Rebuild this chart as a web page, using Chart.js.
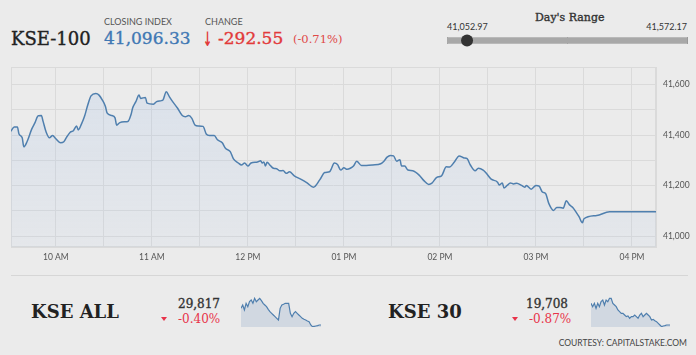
<!DOCTYPE html>
<html>
<head>
<meta charset="utf-8">
<script src="https://cdn.jsdelivr.net/npm/chart.js@4.4.1/dist/chart.umd.min.js"></script>
<style>
  html,body{margin:0;padding:0;}
  body{width:696px;height:355px;background:#ebebeb;position:relative;overflow:hidden;}
  .t{position:absolute;white-space:nowrap;line-height:1;}
  .serif{font-family:"DejaVu Serif",serif;}
  .heavy{-webkit-text-stroke:0.35px currentColor;}
  .sans{font-family:Lato,"DejaVu Sans",sans-serif;}
  canvas{position:absolute;}
  .tri{position:absolute;width:0;height:0;border-left:3.5px solid transparent;border-right:3.5px solid transparent;border-top:4px solid #e8334a;}
</style>
</head>
<body>
<div class="t serif heavy" style="left:11px;top:30px;font-size:18px;color:#222;">KSE-100</div>
<div class="t sans" style="left:104px;top:17px;font-size:9px;color:#555;">CLOSING INDEX</div>
<div class="t serif heavy" id="close" style="left:104px;top:30px;font-size:17px;color:#3f78b4;"></div>
<div class="t sans" style="left:205px;top:17px;font-size:9px;color:#555;">CHANGE</div>
<div class="t" style="left:203px;top:29px;font-size:20px;font-weight:bold;color:#e23a3a;font-family:'DejaVu Sans';transform:scaleX(0.55);transform-origin:left top;">↓</div>
<div class="t serif heavy" id="chg" style="left:218px;top:30px;font-size:17px;color:#e23a3a;"></div>
<div class="t serif" id="chgp" style="left:293px;top:34px;font-size:11.5px;color:#e04848;"></div>

<div class="t serif heavy" style="left:535px;top:12px;font-size:11px;color:#333;">Day's Range</div>
<div class="t sans" id="lowTxt" style="left:447px;top:22px;font-size:9px;color:#333;"></div>
<div class="t sans" id="highTxt" style="right:9px;top:22px;font-size:9px;color:#333;"></div>
<canvas id="range" width="255" height="19" style="left:440px;top:31px;"></canvas>

<canvas id="main" width="696" height="215" style="left:0;top:55px;"></canvas>

<div style="position:absolute;left:11px;top:275px;width:677px;height:1px;background:#d6d6d6;"></div>

<div class="t serif" style="left:31px;top:303px;font-size:18px;font-weight:bold;color:#222;">KSE ALL</div>
<div class="tri" style="left:161px;top:317px;"></div>
<div class="t serif heavy" id="allVal" style="left:178px;top:298px;font-size:12px;color:#333;"></div>
<div class="t serif" id="allPct" style="left:178px;top:313px;font-size:12px;color:#e8334a;"></div>
<canvas id="sparkAll" width="80" height="31" style="left:241px;top:296px;"></canvas>

<div class="t serif" style="left:388px;top:303px;font-size:18px;font-weight:bold;color:#222;">KSE 30</div>
<div class="tri" style="left:512px;top:317px;"></div>
<div class="t serif heavy" id="k30Val" style="left:526px;top:298px;font-size:12px;color:#333;"></div>
<div class="t serif" id="k30Pct" style="left:529px;top:313px;font-size:12px;color:#e8334a;"></div>
<canvas id="spark30" width="79" height="31" style="left:591px;top:296px;"></canvas>

<div class="t sans" style="right:9px;top:339px;font-size:8.5px;color:#444;">COURTESY: CAPITALSTAKE.COM</div>

<script>
// ---- header values ----
const closingIndex = 41096.33;
const changePts = -292.55;
const changePct = -0.71;
const dayLow = 41052.97;
const dayHigh = 41572.17;

// ---- main intraday series (KSE-100) ----
const times = ["09:32","09:34","09:36","09:37","09:39","09:40","09:42","09:45","09:47","09:49","09:51","09:52","09:54","09:56","09:58",
"10:00","10:03","10:05","10:07","10:09","10:11","10:13","10:14","10:16","10:18","10:20","10:22","10:25","10:27","10:29","10:31","10:32","10:35","10:37","10:38","10:40","10:43","10:45","10:47","10:48","10:50","10:52","10:53","10:56","10:57",
"11:01","11:03","11:06","11:07","11:09","11:11","11:13","11:16","11:19","11:21","11:23","11:25","11:27","11:29","11:32","11:34","11:36","11:39","11:41","11:44","11:46","11:49","11:51","11:54","11:56","11:58",
"12:00","12:02","12:06","12:08","12:09","12:10","12:11","12:12","12:14","12:16","12:18","12:20","12:22","12:24","12:26","12:29","12:33","12:37","12:41","12:45","12:48","12:51","12:52","12:54","12:56","12:58",
"13:00","13:02","13:04","13:06","13:08","13:11","13:14","13:18","13:23","13:25","13:27","13:29","13:31","13:33","13:35","13:36","13:38","13:40","13:43","13:47","13:50","13:53","13:55","13:58",
"14:01","14:04","14:06","14:09","14:12","14:15","14:17","14:19","14:22","14:24","14:27","14:29","14:32","14:36","14:37","14:39","14:40","14:42","14:44","14:46","14:48","14:51","14:53","14:54","14:57",
"15:00","15:02","15:04","15:06","15:08","15:11","15:13","15:15","15:17","15:19","15:21","15:23","15:26","15:27","15:29","15:30","15:38","15:46","16:15"];
const values = [41416,41433,41433,41405,41390,41354,41374,41425,41450,41477,41478,41456,41412,41390,41399,
41386,41370,41374,41395,41412,41418,41437,41421,41444,41476,41521,41556,41565,41559,41540,41514,41489,41478,41469,41440,41450,41453,41454,41482,41508,41533,41559,41546,41550,41527,
41523,41533,41537,41540,41572.17,41552,41533,41508,41478,41473,41478,41467,41440,41437,41435,41405,41399,41399,41382,41370,41348,41335,41306,41290,41282,41290,
41278,41290,41294,41299,41290,41294,41278,41293,41280,41269,41267,41259,41260,41249,41255,41239,41226,41211,41194,41224,41252,41255,41265,41290,41284,41262,
41271,41265,41269,41278,41297,41280,41280,41282,41287,41297,41313,41320,41318,41297,41303,41278,41278,41262,41259,41242,41220,41205,41210,41233,
41239,41275,41274,41294,41318,41310,41307,41282,41259,41269,41262,41249,41226,41214,41203,41211,41191,41201,41211,41207,41210,41201,41194,41201,41186,
41201,41198,41175,41169,41130,41102,41114,41114,41111,41140,41124,41114,41086,41076,41052.97,41069,41082,41096.33,41096.33];

const xTicks = [600,630,660,690,720,750,780,810,840,870,900,930,960];
const xTickLabels = ["10 AM","","11 AM","","12 PM","","01 PM","","02 PM","","03 PM","","04 PM"];
const yTicks = [41000,41100,41200,41300,41400,41500,41600];
const yTickLabels = ["41,000","","41,200","","41,400","","41,600"];

// ---- bottom indices ----
const kseAllClose = 29817;
const kseAllPct = -0.40;
const kseAllSpark = [29917,29937,29907,29947,29927,29957,29967,29947,29977,29957,29967,29977,29963,29947,29937,29927,29911,29897,29887,29877,29867,29857,29847,29917,29937,29941,29947,29947,29947,29887,29867,29887,29897,29887,29877,29867,29857,29851,29847,29841,29837,29817,29807,29809,29811,29813,29817,29817];
const kse30Close = 19708;
const kse30Pct = -0.87;
const kse30Spark = [19838,19818,19838,19808,19838,19818,19848,19858,19828,19858,19848,19868,19868,19838,19828,19818,19798,19788,19778,19778,19768,19758,19762,19748,19758,19758,19768,19758,19748,19768,19778,19758,19768,19778,19768,19758,19738,19742,19734,19728,19718,19708,19698,19702,19704,19708,19708,19708];

// ---- text fill ----
const fmt2 = v => v.toLocaleString('en-US',{minimumFractionDigits:2,maximumFractionDigits:2});
const fmt0 = v => v.toLocaleString('en-US');
document.getElementById('close').textContent = fmt2(closingIndex);
document.getElementById('chg').textContent = changePts.toFixed(2);
document.getElementById('chgp').textContent = '(' + changePct.toFixed(2) + '%)';
document.getElementById('lowTxt').textContent = fmt2(dayLow);
document.getElementById('highTxt').textContent = fmt2(dayHigh);
document.getElementById('allVal').textContent = fmt0(kseAllClose);
document.getElementById('allPct').textContent = kseAllPct.toFixed(2) + '%';
document.getElementById('k30Val').textContent = fmt0(kse30Close);
document.getElementById('k30Pct').textContent = kse30Pct.toFixed(2) + '%';

// ---- charts ----
const toMin = s => { const [h,m] = s.split(':').map(Number); return h*60+m; };
const mainPoints = times.map((t,i) => ({x: toMin(t), y: values[i]}));
const GRID = '#dadada';
const tickFont = {family:'Lato', size:8.5};

const framePlugin = {
  id:'frame',
  beforeDatasetsDraw(chart){
    const a = chart.chartArea, c = chart.ctx;
    c.save(); c.strokeStyle = GRID; c.lineWidth = 1;
    c.strokeRect(Math.round(a.left)+0.5, Math.round(a.top)+0.5, Math.round(a.right-a.left)-1, Math.round(a.bottom-a.top)-1);
    c.restore();
  }
};

new Chart(document.getElementById('main'), {
  type:'line',
  data:{datasets:[{
    data: mainPoints,
    borderColor:'#4f7fae', borderWidth:1.5, pointRadius:0, cubicInterpolationMode:'monotone',
    fill:'start',
    backgroundColor: ctx => {
      const a = ctx.chart.chartArea;
      if (!a) return 'rgba(150,185,235,0.15)';
      const g = ctx.chart.ctx.createLinearGradient(0, a.top, 0, a.bottom);
      g.addColorStop(0, 'rgba(150,185,235,0.20)');
      g.addColorStop(1, 'rgba(150,185,235,0.07)');
      return g;
    }
  }]},
  options:{
    responsive:false, animation:false, devicePixelRatio:1,
    layout:{padding:{left:11, top:6, right:0, bottom:0}},
    plugins:{legend:{display:false}, tooltip:{enabled:false}},
    scales:{
      x:{type:'linear', min:572, max:975,
        afterBuildTicks: s => { s.ticks = xTicks.map(v => ({value:v})); },
        afterFit: s => { s.height = 23; },
        ticks:{autoSkip:false, maxRotation:0, padding:5, color:'#555', font:tickFont, callback:(v,i) => xTickLabels[i]},
        grid:{color:GRID, drawTicks:false}, border:{display:true, color:GRID}},
      y:{position:'right', min:40957, max:41670,
        afterBuildTicks: s => { s.ticks = yTicks.map(v => ({value:v})); },
        afterFit: s => { s.width = 40; },
        ticks:{padding:7, color:'#555', font:tickFont, callback:(v,i) => yTickLabels[i]},
        grid:{color:GRID, drawTicks:false}, border:{display:true, color:GRID}}
    }
  },
  plugins:[framePlugin]
});

new Chart(document.getElementById('range'), {
  type:'bar',
  data:{labels:['range'], datasets:[
    {type:'line', indexAxis:'y', data:[closingIndex], showLine:false, pointRadius:6, pointBackgroundColor:'#333', pointBorderWidth:0, order:0, clip:false},
    {type:'bar', indexAxis:'y', data:[[dayLow, dayHigh]], backgroundColor:'#a8a8a8', barThickness:6, order:1}
  ]},
  options:{
    indexAxis:'y', responsive:false, animation:false, devicePixelRatio:1,
    layout:{padding:{left:7, right:8, top:0, bottom:0}},
    plugins:{legend:{display:false}, tooltip:{enabled:false}},
    scales:{
      x:{type:'linear', min:dayLow, max:dayHigh,
        afterBuildTicks: s => { s.ticks = [dayLow, (dayLow+dayHigh)/2, dayHigh].map(v => ({value:v})); },
        ticks:{display:false}, grid:{color:'#999', drawTicks:false}, border:{display:false}},
      y:{display:false}
    }
  }
});

function spark(id, vals, yMin, yMax){
  new Chart(document.getElementById(id), {
    type:'line',
    data:{labels: vals.map((_,i) => i), datasets:[{
      data: vals, borderColor:'#4f7fae', borderWidth:1.2, pointRadius:0, tension:0,
      fill:'start', backgroundColor:'rgba(120,150,190,0.22)'
    }]},
    options:{
      responsive:false, animation:false, devicePixelRatio:1,
      layout:{padding:0},
      plugins:{legend:{display:false}, tooltip:{enabled:false}},
      scales:{x:{display:false, offset:false}, y:{display:false, min:yMin, max:yMax}}
    }
  });
}
spark('sparkAll', kseAllSpark, 29805, 29991);
spark('spark30', kse30Spark, 19696, 19882);
</script>
</body>
</html>
